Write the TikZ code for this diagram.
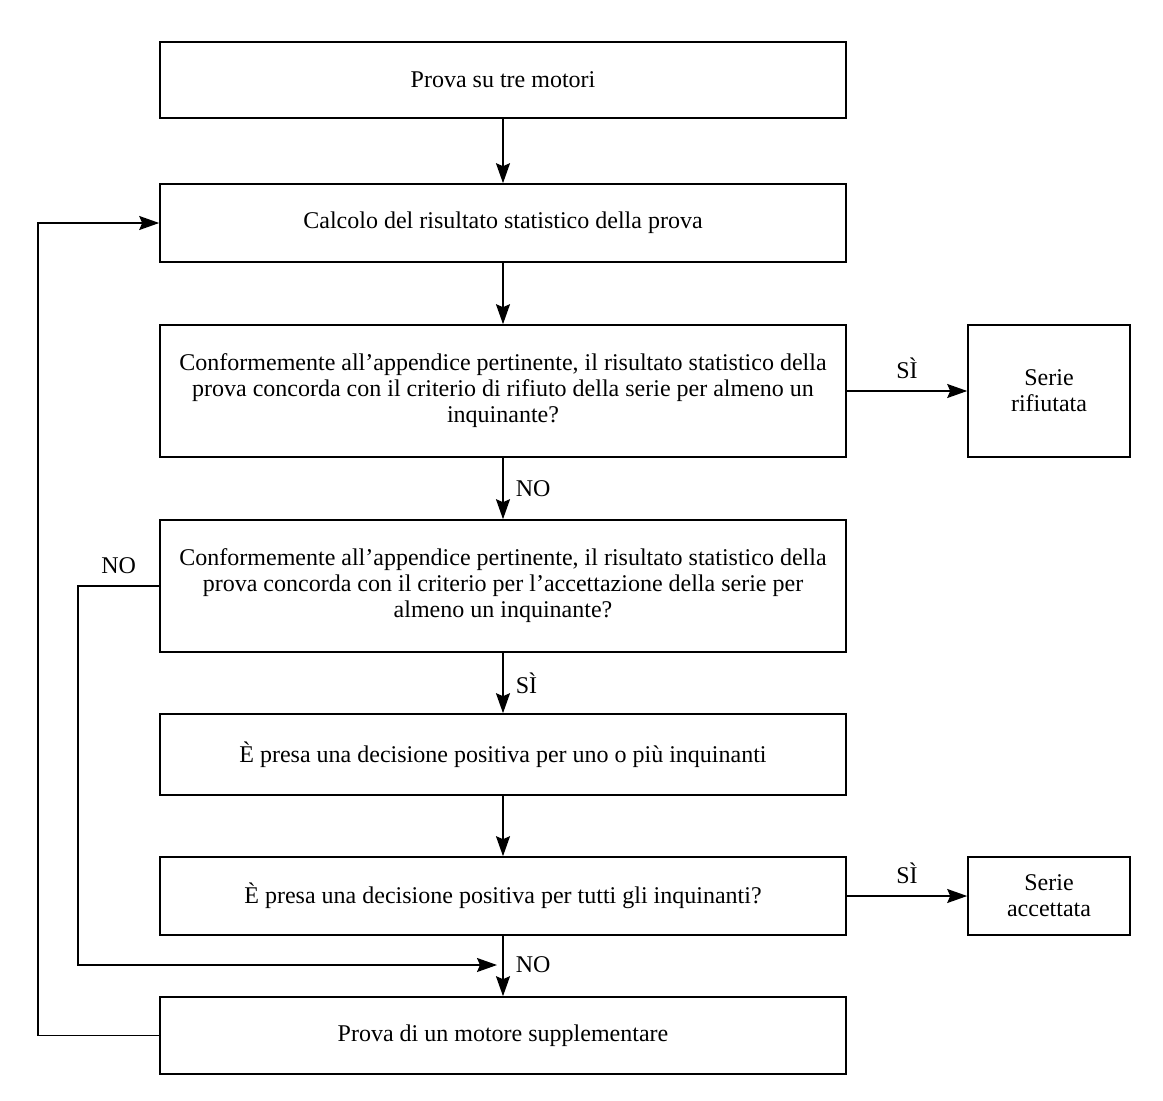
\documentclass[tikz,border=0pt]{standalone}
\usepackage{fontspec}
\setmainfont{Liberation Serif}
\usetikzlibrary{arrows.meta}
\begin{document}
\begin{tikzpicture}[x=1pt,y=-1pt,
  every node/.style={font=\fontsize{24}{26}\selectfont},
  box/.style={draw,line width=1.6pt,minimum width=686pt,inner sep=0pt,align=center},
  side/.style={draw,line width=1.6pt,minimum width=162pt,inner sep=0pt,align=center},
  arr/.style={line width=1.6pt,-{Stealth[length=20pt,width=14pt,inset=3pt]}},
  lbl/.style={inner sep=2pt}]
\useasboundingbox (0,0) rectangle (1163,1101);
\node[box,minimum height=76pt] (b1) at (503,80) {Prova su tre motori};
\node[box,minimum height=78pt] (b2) at (503,223) {Calcolo del risultato statistico della prova};
\node[box,minimum height=132pt] (b3) at (503,391) {Conformemente all'appendice pertinente, il risultato statistico della\\prova concorda con il criterio di rifiuto della serie per almeno un\\inquinante?};
\node[box,minimum height=132pt] (b4) at (503,586) {Conformemente all'appendice pertinente, il risultato statistico della\\prova concorda con il criterio per l'accettazione della serie per\\almeno un inquinante?};
\node[box,minimum height=81pt] (b5) at (503,754.5) {È presa una decisione positiva per uno o più inquinanti};
\node[box,minimum height=78pt] (b6) at (503,896) {È presa una decisione positiva per tutti gli inquinanti?};
\node[box,minimum height=77pt] (b7) at (503,1035.5) {Prova di un motore supplementare};
\node[side,minimum height=132pt] (r1) at (1049,391) {Serie\\rifiutata};
\node[side,minimum height=78pt] (r2) at (1049,896) {Serie\\accettata};
\coordinate (L1) at (38,0);
\coordinate (L2) at (78,0);
\coordinate (M) at (497,965);
\draw[arr] (b1) -- (b2);
\draw[arr] (b2) -- (b3);
\draw[arr] (b3) -- node[lbl,right,xshift=10pt]{NO} (b4);
\draw[arr] (b4) -- node[lbl,right,xshift=10pt]{SÌ} (b5);
\draw[arr] (b5) -- (b6);
\draw[arr] (b6) -- node[lbl,right,xshift=10pt,yshift=1pt]{NO} (b7);
\draw[arr] (b3.east) -- node[lbl,above,yshift=9pt]{SÌ} (r1);
\draw[arr] (b6.east) -- node[lbl,above,yshift=9pt]{SÌ} (r2);
\draw[arr] (b7.west) -- (b7.west -| L1) -- (b2.west -| L1) -- (b2.west);
\draw[arr] (b4.west) -- node[lbl,above,yshift=9pt]{NO} (b4.west -| L2) -- (L2 |- M) -- (M);
\end{tikzpicture}
\end{document}
